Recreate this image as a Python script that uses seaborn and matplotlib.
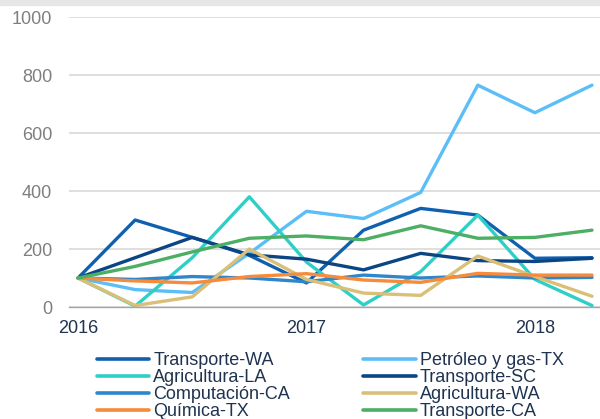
import matplotlib
matplotlib.use('Agg')
import matplotlib.pyplot as plt
from matplotlib.lines import Line2D
from matplotlib.patches import Rectangle
import pandas as pd
import seaborn as sns

# quarterly index values (2016-Q1 = 100)
quarters = ['2016-T1', '2016-T2', '2016-T3', '2016-T4', '2017-T1',
            '2017-T2', '2017-T3', '2017-T4', '2018-T1', '2018-T2']
transporte_wa = [100, 300, 240, 178, 83, 265, 340, 317, 168, 170]
petroleo_tx = [100, 60, 50, 185, 330, 305, 395, 765, 670, 765]
agricultura_la = [100, 3, 170, 380, 155, 7, 122, 317, 95, 5]
transporte_sc = [100, 170, 240, 180, 165, 128, 185, 160, 157, 168]
computacion_ca = [100, 95, 105, 100, 87, 110, 100, 107, 100, 102]
agricultura_wa = [100, 5, 35, 200, 95, 48, 40, 176, 105, 37]
quimica_tx = [100, 90, 83, 105, 115, 93, 85, 116, 110, 110]
transporte_ca = [100, 140, 190, 237, 245, 232, 280, 237, 240, 265]

year_labels = ['2016', '2017', '2018']

series = {
    'Transporte-WA': transporte_wa,
    'Petróleo y gas-TX': petroleo_tx,
    'Agricultura-LA': agricultura_la,
    'Transporte-SC': transporte_sc,
    'Computación-CA': computacion_ca,
    'Agricultura-WA': agricultura_wa,
    'Química-TX': quimica_tx,
    'Transporte-CA': transporte_ca,
}
colors = {
    'Transporte-WA': '#1060B0',
    'Petróleo y gas-TX': '#5BBEF7',
    'Agricultura-LA': '#2ECFC6',
    'Transporte-SC': '#0B4584',
    'Computación-CA': '#2E87CB',
    'Agricultura-WA': '#D9BF77',
    'Química-TX': '#F68B3C',
    'Transporte-CA': '#4CAF63',
}
order = list(series.keys())

df = pd.DataFrame(series)
df['t'] = range(len(quarters))
long = df.melt(id_vars='t', var_name='serie', value_name='valor')

sns.set_style('white')
plt.rcParams['font.family'] = ['Liberation Sans', 'DejaVu Sans']

fig = plt.figure(figsize=(6, 4.19), dpi=100)
ax = fig.add_axes([69 / 600, 1 - 307 / 419, 1 - 69 / 600, 290 / 419])

sns.lineplot(data=long, x='t', y='valor', hue='serie', hue_order=order,
             palette=colors, linewidth=2.4, ax=ax, legend=False)

ax.set_xlim(-0.158, 9.14)
ax.set_ylim(0, 1000)
ax.set_yticks(range(0, 1001, 200))
ax.set_xlabel('')
ax.set_ylabel('')
ax.yaxis.grid(True, color='#D9D9D9', linewidth=1.2)
ax.set_axisbelow(True)
for s in ['left', 'top', 'right']:
    ax.spines[s].set_visible(False)
ax.spines['bottom'].set_color('#A6A6A6')
ax.spines['bottom'].set_linewidth(1.0)

ax.tick_params(axis='y', length=0, pad=12, labelsize=13, labelcolor='#7F7F7F')
ax.set_xticks([0, 4, 8])
ax.set_xticklabels(year_labels)
ax.set_xticks([-0.158, 3.84, 7.85], minor=True)
ax.tick_params(axis='x', which='major', length=0, pad=9.5, labelsize=13,
               labelcolor='#1F3350')
ax.tick_params(axis='x', which='minor', length=4.5, width=1, color='#A6A6A6')

# legend filled row by row, two columns
handles = {n: Line2D([], [], color=colors[n], linewidth=2.6) for n in order}
leg_order = order[0::2] + order[1::2]
fig.legend([handles[n] for n in leg_order], leg_order, ncol=2,
           loc='upper left', bbox_to_anchor=(96.5 / 600, 1 - 352 / 419),
           frameon=False, fontsize=13, handlelength=2.9, handletextpad=0.25,
           columnspacing=4.05, labelspacing=0.0, borderpad=0,
           borderaxespad=0, labelcolor='#1F3350')

fig.add_artist(Rectangle((0, 1 - 5 / 419), 1, 5 / 419,
                         transform=fig.transFigure, color='#E6E6E6'))

fig.savefig('out.png', dpi=100)
